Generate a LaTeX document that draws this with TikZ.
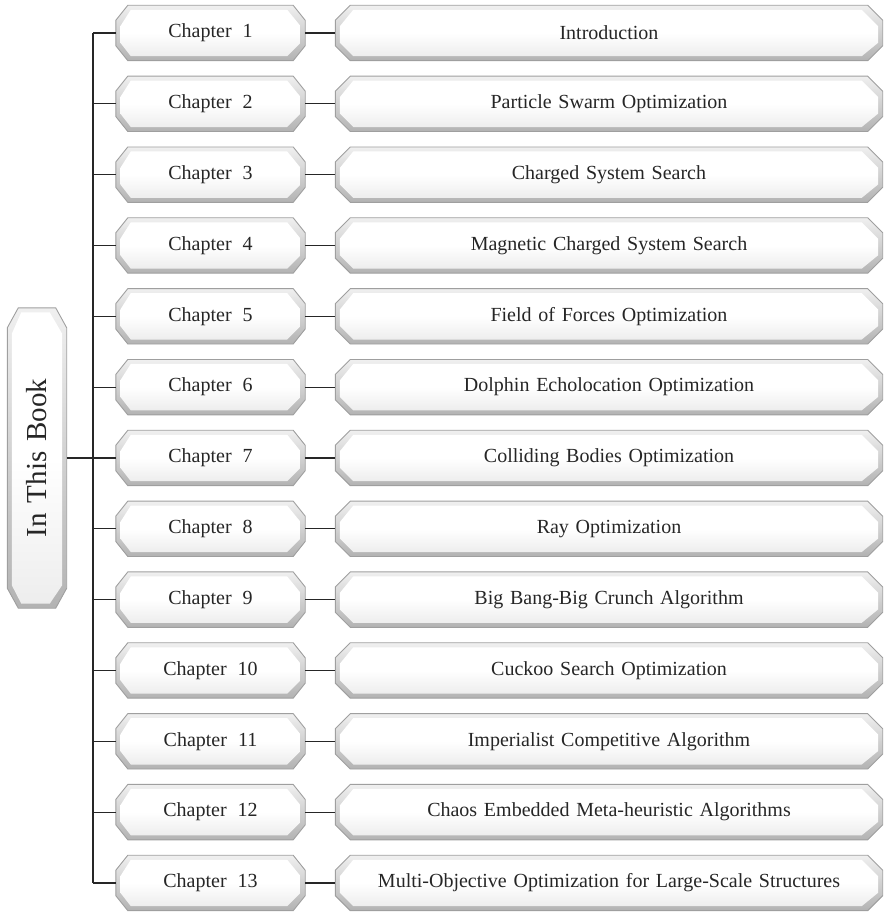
\documentclass[tikz,border=0pt]{standalone}
\usepackage{fontspec}
\setmainfont{Liberation Serif}[WordSpace=2.2]
\newfontfamily\titlefont{Liberation Serif}[WordSpace=1.35]
\usetikzlibrary{calc}
\pgfdeclarelayer{background}
\pgfsetlayers{background,main}
\newcommand\octpath[4]{%
  ([xshift=#4pt+#2pt, yshift=-#4pt]#1.north west) --
  ([xshift=-#4pt-#2pt, yshift=-#4pt]#1.north east) --
  ([xshift=-#4pt, yshift=-#4pt-#3pt]#1.north east) --
  ([xshift=-#4pt, yshift=#4pt+#3pt]#1.south east) --
  ([xshift=-#4pt-#2pt, yshift=#4pt]#1.south east) --
  ([xshift=#4pt+#2pt, yshift=#4pt]#1.south west) --
  ([xshift=#4pt, yshift=#4pt+#3pt]#1.south west) --
  ([xshift=#4pt, yshift=-#4pt-#3pt]#1.north west) -- cycle}
\newcommand\bevbox[3]{%
  \begin{pgfonlayer}{background}
  \path[outerbev] \octpath{#1}{#2}{#3}{0};
  \path[innerbev] \octpath{#1}{#2-1.5}{#3-1.5}{4.5};
  \end{pgfonlayer}}
\begin{document}
\begin{tikzpicture}[x=1pt,y=-1pt,
  outerbev/.style={draw=gray!75, line width=0.9pt, top color=gray!12, bottom color=gray!60},
  innerbev/.style={top color=white, bottom color=gray!14, middle color=white},
  txt/.style={inner sep=0pt, font=\fontsize{20}{24}\selectfont, text=black!85},
  chapbox/.style={txt, minimum width=189pt, minimum height=55pt},
  titlebox/.style={txt, minimum width=547pt, minimum height=55pt, font=\titlefont\fontsize{20}{24}\selectfont},
  conn/.style={draw=black!85, line width=1.1pt}]
\useasboundingbox (0,0) rectangle (884,912);
\foreach \i/\t [count=\k] in {1/Introduction,2/Particle Swarm Optimization,3/Charged System Search,4/Magnetic Charged System Search,5/Field of Forces Optimization,6/Dolphin Echolocation Optimization,7/Colliding Bodies Optimization,8/Ray Optimization,9/Big Bang-Big Crunch Algorithm,10/Cuckoo Search Optimization,11/Imperialist Competitive Algorithm,12/Chaos Embedded Meta-heuristic Algorithms,13/Multi-Objective Optimization for Large-Scale Structures}{
  \pgfmathsetmacro{\yy}{33+(\k-1)*70.83}
  \node[chapbox] (c\i) at (210.5,\yy) {Chapter \i};
  \node[titlebox] (t\i) at (609,\yy) {\t};
  \bevbox{c\i}{12}{15}
  \bevbox{t\i}{15}{15}
  \draw[conn] (c\i) -- (t\i);
  \coordinate (j\i) at (93,\yy);
  \draw[conn] (j\i) -- (c\i);
}
\draw[conn] (j1) -- (j13);
\node[txt, minimum width=59pt, minimum height=300pt, font=\titlefont\fontsize{29}{32}\selectfont] (book) at (37,458) {\rotatebox{90}{In This Book}};
\bevbox{book}{11}{20}
\coordinate (jb) at (93,458);
\draw[conn] (book) -- (jb);
\end{tikzpicture}
\end{document}
